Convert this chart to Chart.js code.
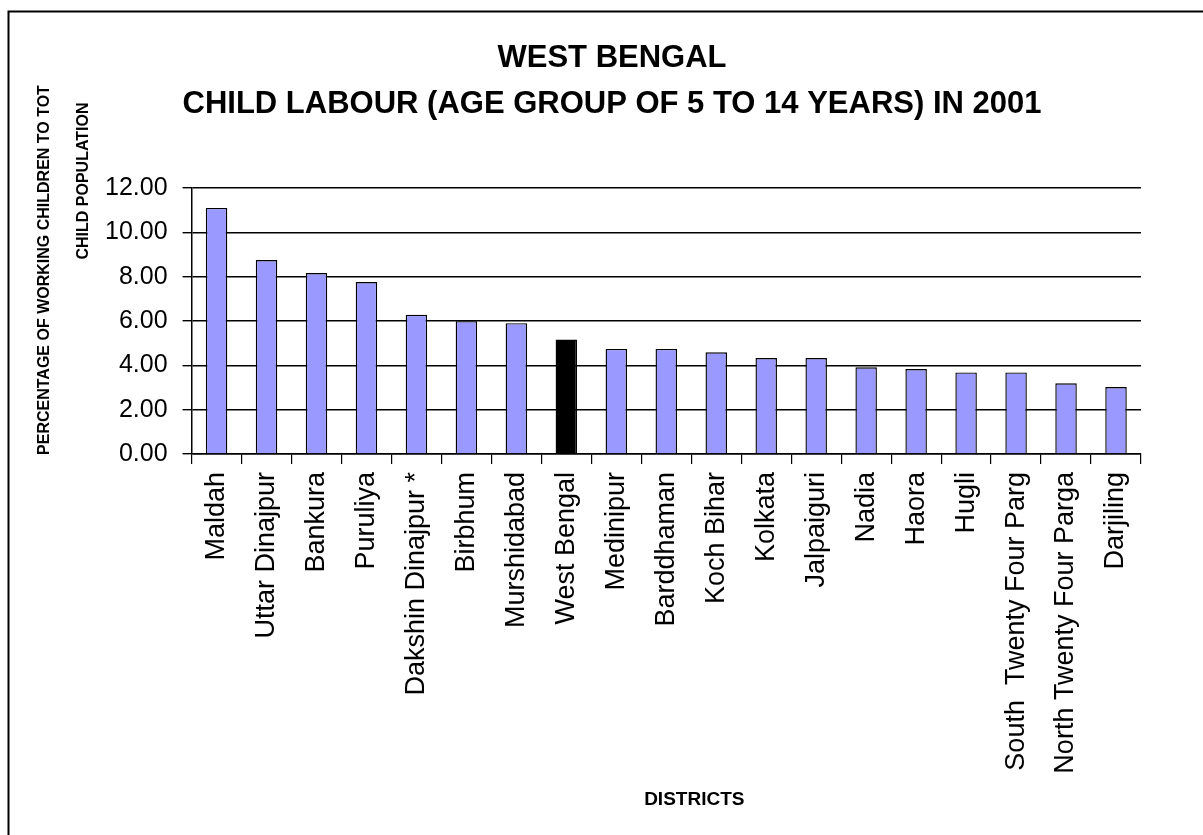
<!DOCTYPE html>
<html>
<head>
<meta charset="utf-8">
<title>West Bengal - Child Labour 2001</title>
<script src="https://cdn.jsdelivr.net/npm/chart.js@4/dist/chart.umd.min.js"></script>
<style>
  html, body { margin: 0; padding: 0; background: #ffffff; overflow: hidden; }
  #wrap { width: 1203px; height: 835px; position: relative; }
</style>
</head>
<body>
<div id="wrap"><canvas id="chart" width="1203" height="835"></canvas></div>
<script>
// Districts of West Bengal, ordered by share of working children (age 5-14), Census 2001
const districts = [
  'Maldah', 'Uttar Dinajpur', 'Bankura', 'Puruliya', 'Dakshin Dinajpur *',
  'Birbhum', 'Murshidabad', 'West Bengal', 'Medinipur', 'Barddhaman',
  'Koch Bihar', 'Kolkata', 'Jalpaiguri', 'Nadia', 'Haora', 'Hugli',
  'South  Twenty Four Parg', 'North Twenty Four Parga', 'Darjiling'
];

// Percentage of working children to total child population
const childLabourPct = [
  11.10, 8.75, 8.16, 7.76, 6.28,
  5.99, 5.90, 5.16, 4.74, 4.74,
  4.59, 4.33, 4.33, 3.91, 3.83, 3.68,
  3.68, 3.19, 3.02
];

// State-level figure, highlighted among the districts
const stateTotal = 'West Bengal';

const yAxisMin = 0;
const yAxisMax = 12;
const yAxisStep = 2;

const titleLines = ['WEST BENGAL', 'CHILD LABOUR (AGE GROUP OF 5 TO 14 YEARS) IN 2001'];
const yTitleLines = ['PERCENTAGE OF WORKING CHILDREN TO TOT', 'CHILD POPULATION'];
const xTitle = 'DISTRICTS';

const FONT = "'Liberation Sans', Arial, Helvetica, sans-serif";
const DISTRICT_FILL = '#9999ff';
const STATE_FILL = '#000000';
const PLOT_BOTTOM = 454;   // pixel row of the category axis

// Frame, heading and axis captions drawn straight onto the canvas
const captions = {
  id: 'captions',
  beforeDraw(chart) {
    const ctx = chart.ctx;
    ctx.save();
    ctx.fillStyle = '#ffffff';
    ctx.fillRect(0, 0, chart.width, chart.height);
    ctx.strokeStyle = '#000000';
    ctx.lineWidth = 2;
    ctx.strokeRect(8.5, 11.5, chart.width + 40, chart.height + 40);
    ctx.restore();
  },
  afterDraw(chart) {
    const ctx = chart.ctx;
    const area = chart.chartArea;
    ctx.save();
    ctx.fillStyle = '#000000';

    // heading
    ctx.font = 'bold 31px ' + FONT;
    ctx.textAlign = 'center';
    ctx.textBaseline = 'alphabetic';
    ctx.fillText(titleLines[0], 612, 67);
    ctx.fillText(titleLines[1], 612, 113);

    // x-axis caption
    ctx.font = 'bold 19px ' + FONT;
    ctx.fillText(xTitle, (area.left + area.right) / 2 + 28, 805);

    // y-axis caption, two rotated lines
    ctx.font = 'bold 16px ' + FONT;
    ctx.textBaseline = 'middle';
    [[45, 270], [84, 181]].forEach(([x, y], i) => {
      ctx.save();
      ctx.translate(x, y);
      ctx.rotate(-Math.PI / 2);
      ctx.fillText(yTitleLines[i], 0, 0);
      ctx.restore();
    });
    ctx.restore();
  }
};

new Chart(document.getElementById('chart'), {
  type: 'bar',
  data: {
    labels: districts,
    datasets: [{
      data: childLabourPct,
      backgroundColor: districts.map(d => d === stateTotal ? STATE_FILL : DISTRICT_FILL),
      borderColor: '#000000',
      borderWidth: 1.4,
      barPercentage: 0.43,
      categoryPercentage: 1.0
    }]
  },
  options: {
    responsive: false,
    animation: false,
    devicePixelRatio: 1,
    layout: { padding: { top: 188, right: 62, bottom: 0, left: 90 } },
    plugins: {
      legend: { display: false },
      title: { display: false },
      tooltip: { enabled: false }
    },
    scales: {
      x: {
        type: 'category',
        offset: true,
        afterFit: scale => { scale.height = scale.chart.height - PLOT_BOTTOM; },
        grid: {
          display: true,
          offset: true,
          drawOnChartArea: false,
          drawTicks: true,
          tickLength: 10,
          color: '#000000',
          lineWidth: 1.2
        },
        border: { display: true, color: '#000000', width: 1.5 },
        ticks: {
          autoSkip: false,
          maxRotation: 90,
          minRotation: 90,
          padding: 8,
          color: '#000000',
          font: { family: FONT, size: 27 }
        }
      },
      y: {
        min: yAxisMin,
        max: yAxisMax,
        grid: {
          color: '#000000',
          lineWidth: 1.4,
          drawTicks: true,
          tickLength: 9
        },
        border: { display: true, color: '#000000', width: 1.5 },
        ticks: {
          stepSize: yAxisStep,
          padding: 15,
          color: '#000000',
          font: { family: FONT, size: 25 },
          callback: v => Number(v).toFixed(2)
        }
      }
    }
  },
  plugins: [captions]
});
</script>
</body>
</html>
